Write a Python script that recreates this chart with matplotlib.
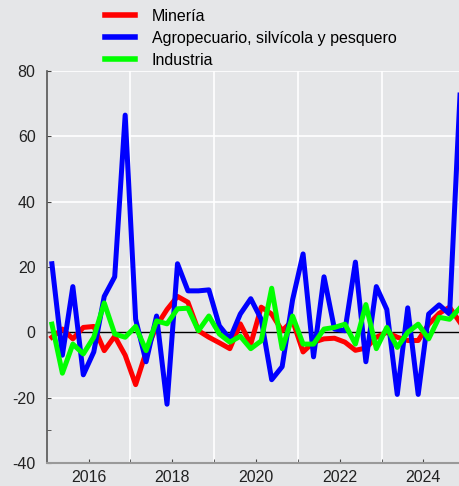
import numpy as np
from matplotlib import pyplot as plt
from matplotlib.ticker import FixedLocator

# quarterly series, 2015Q1 .. 2024Q4
quarters = 2015.125 + 0.25 * np.arange(40)

mineria = [-1.5, 1, -2, 1.5, 1.8, -5.6, -1.2, -7, -16, -6,
           2, 7, 11, 9.2, 0.5, -1.5, -3.2, -5, 2.6, -3.6,
           7.7, 5.6, 0.5, 3.6, -6, -3, -2, -1.8, -3, -5.5,
           -4.8, -1.5, 0, -1.5, -2.5, -2.5, 2.5, 5.8, 7.7, 3]
agro = [21, -7, 14, -13, -6, 11, 17, 66.5, 4, -9,
        5, -22, 21, 12.7, 12.7, 13, 2, -2, 5.6, 10.3,
        4, -14.5, -10.5, 10, 24, -7.5, 17, 1, 0.5, 21.5,
        -9, 14, 7, -19, 7.5, -19, 5.6, 8.4, 5.6, 73]
industria = [2.5, -12.5, -3.6, -6.6, -1.5, 9, -0.5, -1.5, 1.8, -5.6,
             3.5, 2.6, 7.2, 7.4, 0.5, 5, -0.5, -3, -1.2, -5,
             -2.6, 13.5, -5, 5, -3.6, -3.6, 1, 1.5, 2.5, -3.6,
             8.5, -5, 1.5, -4.6, 0, 2.5, -2, 4.6, 4, 7.5]

labels = ['Minería', 'Agropecuario, silvícola y pesquero', 'Industria']
colors = ['#ff0000', '#0000ff', '#00ff00']
bg = '#e5e6e8'

plt.rcParams['font.family'] = ['Liberation Sans', 'DejaVu Sans']
plt.rcParams['axes.unicode_minus'] = False

fig = plt.figure(figsize=(4.59, 4.86), dpi=100, facecolor=bg)
ax = fig.add_axes([0.1017, 0.0473, 0.912, 0.8066], facecolor=bg)

for y in [80, 60, 40, 20, -20]:
    ax.axhline(y, color='white', lw=1.2, zorder=0)
for x in [2017, 2019, 2021, 2023, 2025]:
    ax.axvline(x, color='white', lw=1.2, zorder=0)
ax.axhline(0, color='black', lw=1, zorder=1)

for vals, lab, c in zip([mineria, agro, industria], labels, colors):
    ax.plot(quarters, vals, color=c, lw=3.6, label=lab, zorder=2)

ax.set_xlim(2015, 2025)
ax.set_ylim(-40, 80)
ax.set_yticks([-40, -20, 0, 20, 40, 60, 80])
ax.yaxis.set_minor_locator(FixedLocator([-30]))
ax.set_xticks([2016, 2018, 2020, 2022, 2024])
ax.xaxis.set_minor_locator(FixedLocator([2017, 2019, 2021, 2023]))
ax.tick_params(axis='both', which='both', direction='in', length=3,
               labelsize=11.5, labelcolor='#222222', color='#444444')
ax.tick_params(axis='y', pad=8)
ax.tick_params(axis='x', pad=5)

for s in ['top', 'right']:
    ax.spines[s].set_visible(False)
ax.spines['left'].set_color('#555555')
ax.spines['left'].set_linewidth(1.2)
ax.spines['bottom'].set_color('#999999')
ax.spines['bottom'].set_linewidth(1.5)

leg = fig.legend(loc='upper left', bbox_to_anchor=(0.198, 1.012), frameon=False,
                 fontsize=11.5, handlelength=1.85, handletextpad=1.05,
                 labelspacing=0.45)
for h in leg.get_lines():
    h.set_linewidth(4)

plt.savefig('out.png', dpi=100, facecolor=bg)
